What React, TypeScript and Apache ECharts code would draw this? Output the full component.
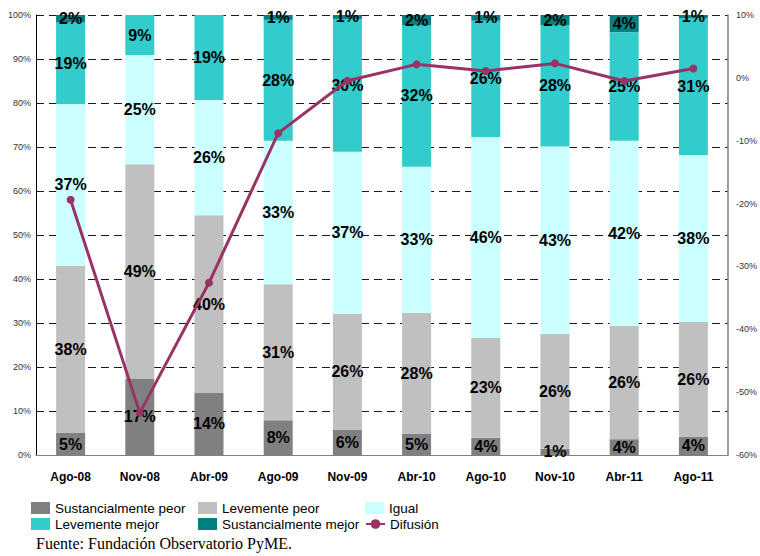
import React, { useEffect, useRef } from "react";
import * as echarts from "echarts";

const categories = ["Ago-08", "Nov-08", "Abr-09", "Ago-09", "Nov-09", "Abr-10", "Ago-10", "Nov-10", "Abr-11", "Ago-11"];
const sustPeor = [5.0, 17.4, 14.1, 7.9, 5.7, 4.8, 3.9, 1.4, 3.6, 4.1];
const levPeor = [38.0, 48.7, 40.4, 30.9, 26.4, 27.5, 22.7, 26.1, 25.7, 26.1];
const igual = [36.8, 24.8, 26.2, 32.6, 36.8, 33.2, 45.7, 42.6, 42.1, 38.0];
const levMejor = [18.5, 9.1, 19.3, 27.5, 30.2, 32.2, 26.4, 27.6, 24.7, 31.1];
const sustMejor = [1.7, 0, 0, 1.1, 0.9, 2.3, 1.3, 2.3, 3.9, 0.7];
const difusion = [-19.4, -53.3, -32.6, -8.8, -0.45, 2.15, 1.1, 2.3, -0.5, 1.5];

const SANS = '"Liberation Sans", Arial, sans-serif';

export default function App() {
  const ref = useRef<HTMLDivElement>(null);
  useEffect(() => {
    if (!ref.current) return;
    const chart = echarts.init(ref.current, null, { renderer: "svg" });
    const barLabel = {
      show: true,
      position: "inside",
      color: "#000",
      fontFamily: SANS,
      fontSize: 16,
      fontWeight: "bold",
      formatter: (p: any) => (p.value > 0 ? Math.round(p.value) + "%" : ""),
    };
    const bar = (name: string, data: number[], color: string) => ({
      name,
      type: "bar",
      stack: "total",
      data,
      barWidth: 29,
      itemStyle: { color },
      label: barLabel,
      z: 2,
    });
    const legendBase = {
      padding: 0,
      itemWidth: 19,
      itemHeight: 12,
      selectedMode: false,
      textStyle: { fontFamily: SANS, fontSize: 13.5, color: "#000" },
    };
    chart.setOption({
      animation: false,
      backgroundColor: "#fff",
      grid: { left: 36, right: 27, top: 15, bottom: 101 },
      xAxis: {
        type: "category",
        data: categories,
        axisLine: { lineStyle: { color: "#808080", width: 1 } },
        axisTick: { show: false },
        axisLabel: { color: "#000", fontFamily: SANS, fontSize: 12, fontWeight: "bold", margin: 16 },
      },
      yAxis: [
        {
          type: "value",
          min: 0,
          max: 100,
          interval: 10,
          axisLine: { show: true, lineStyle: { color: "#000", width: 1 } },
          axisTick: { show: false },
          axisLabel: { formatter: "{value}%", color: "#333", fontFamily: SANS, fontSize: 9, margin: 5 },
          splitLine: { show: true, lineStyle: { color: "#1a1a1a", type: [8, 5], width: 1 } },
        },
        {
          type: "value",
          min: -60,
          max: 10,
          interval: 10,
          position: "right",
          axisLine: { show: true, lineStyle: { color: "#808080", width: 1.5 } },
          axisTick: { show: false },
          axisLabel: { formatter: "{value}%", color: "#333", fontFamily: SANS, fontSize: 9, margin: 8 },
          splitLine: { show: false },
        },
      ],
      legend: [
        { ...legendBase, left: 31, top: 501, data: [{ name: "Sustancialmente peor", icon: "rect" }] },
        { ...legendBase, left: 198, top: 501, data: [{ name: "Levemente peor", icon: "rect" }] },
        { ...legendBase, left: 365, top: 501, data: [{ name: "Igual", icon: "rect" }] },
        { ...legendBase, left: 31, top: 517, data: [{ name: "Levemente mejor", icon: "rect" }] },
        { ...legendBase, left: 198, top: 517, data: [{ name: "Sustancialmente mejor", icon: "rect" }] },
        { ...legendBase, left: 365, top: 517, data: ["Difusión"] },
      ],
      graphic: [
        {
          type: "text",
          left: 36,
          top: 535,
          style: { text: "Fuente: Fundación Observatorio PyME.", font: '16px "Liberation Serif", "Times New Roman", serif', fill: "#000" },
        },
      ],
      series: [
        bar("Sustancialmente peor", sustPeor, "#808080"),
        bar("Levemente peor", levPeor, "#C0C0C0"),
        bar("Igual", igual, "#CCFFFF"),
        bar("Levemente mejor", levMejor, "#33CCCC"),
        bar("Sustancialmente mejor", sustMejor, "#008080"),
        {
          name: "Difusión",
          type: "line",
          yAxisIndex: 1,
          data: difusion,
          symbol: "circle",
          symbolSize: 8,
          lineStyle: { color: "#993366", width: 3 },
          itemStyle: { color: "#993366" },
          z: 3,
        },
      ],
    });
    return () => chart.dispose();
  }, []);
  return <div ref={ref} style={{ position: "fixed", left: 0, top: 0, width: 760, height: 556 }} />;
}
